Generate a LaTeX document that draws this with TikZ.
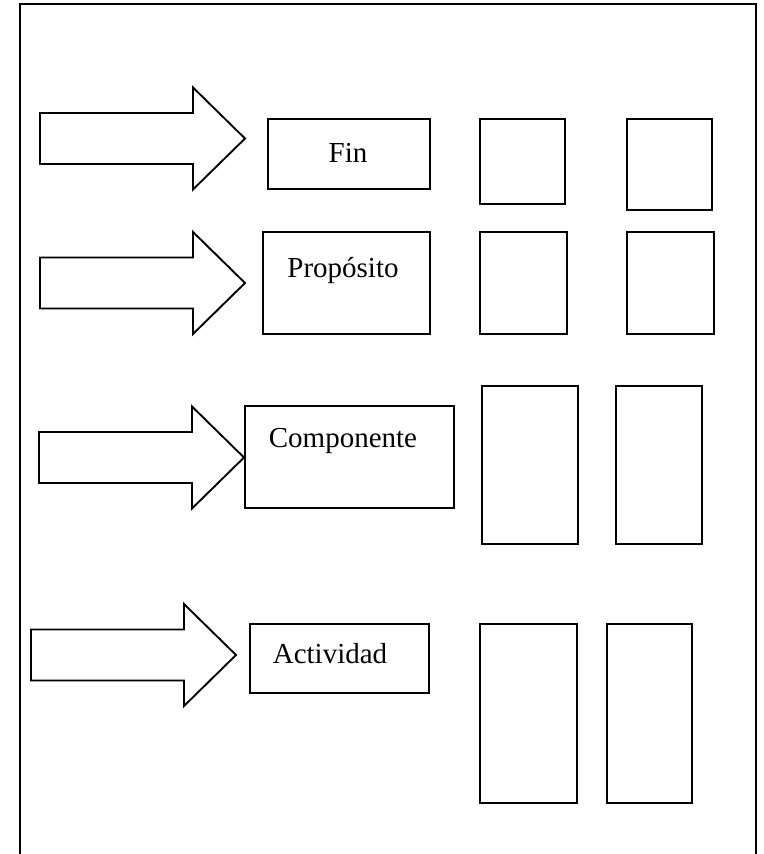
\documentclass[tikz,border=0pt]{standalone}
\usepackage{fontspec}
\setmainfont{Liberation Serif}
\begin{document}
\begin{tikzpicture}[x=1pt,y=-1pt,
  line join=miter,
  ln/.style={line width=1.9pt,draw=black},
  rbox/.style 2 args={ln,fill=white,rectangle,inner sep=0pt,outer sep=0pt,minimum width=#1pt,minimum height=#2pt},
  lbl/.style={anchor=base,inner sep=0pt,font=\fontsize{29}{34}\selectfont},
  barrow/.pic={\draw[ln,fill=white] (0,0) -- (-52,-51) -- (-52,-25.5) -- (-205,-25.5) -- (-205,25.5) -- (-52,25.5) -- (-52,51) -- cycle;}
]
\useasboundingbox (0,0) rectangle (763,854);
% outer frame (open at the bottom)
\draw[ln] (20,860) -- (20,4) -- (756,4) -- (756,860);

% block arrows
\pic (a1) at (245,138.5) {barrow};
\pic (a2) at (245,283) {barrow};
\pic (a3) at (244,457.5) {barrow};
\pic (a4) at (236,655) {barrow};

% row 1
\node[rbox={162}{70}] (finbox) at (349,154) {};
\node[lbl] (fin) at (348,162) {Fin};
\node[rbox={85}{85}] (b11) at (522.5,161.5) {};
\node[rbox={85}{91}] (b12) at (669.5,164.5) {};

% row 2
\node[rbox={167}{102}] (propbox) at (346.5,283) {};
\node[lbl] (prop) at (343,277) {Propósito};
\node[rbox={87}{102}] (b21) at (523.5,283) {};
\node[rbox={87}{102}] (b22) at (670.5,283) {};

% row 3
\node[rbox={209}{102}] (compbox) at (349.5,457) {};
\node[lbl] (comp) at (343,447) {Componente};
\node[rbox={96}{158}] (b31) at (530,465) {};
\node[rbox={86}{158}] (b32) at (659,465) {};

% row 4
\node[rbox={179}{69}] (actbox) at (339.5,658.5) {};
\node[lbl] (act) at (330,663) {Actividad};
\node[rbox={97}{179}] (b41) at (528.5,713.5) {};
\node[rbox={85}{179}] (b42) at (649.5,713.5) {};
\end{tikzpicture}
\end{document}
